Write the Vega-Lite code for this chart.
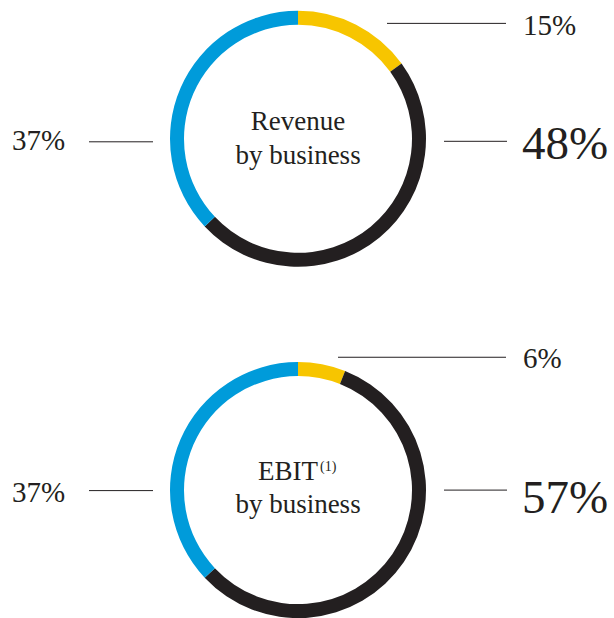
{
  "$schema": "https://vega.github.io/schema/vega-lite/v6.json",
  "width": 614,
  "height": 618,
  "padding": 0,
  "autosize": {"type": "fit", "contains": "padding"},
  "background": "#ffffff",
  "config": {
    "view": {"stroke": null},
    "font": "Liberation Serif",
    "text": {"font": "Liberation Serif", "color": "#231F20"}
  },
  "datasets": {
    "segments": [
      {"chart": "Revenue", "segment": "Segment A", "share": 15, "rank": 1, "cx": 298, "cy": 139.5},
      {"chart": "Revenue", "segment": "Segment B", "share": 48, "rank": 2, "cx": 298, "cy": 139.5},
      {"chart": "Revenue", "segment": "Segment C", "share": 37, "rank": 3, "cx": 298, "cy": 139.5},
      {"chart": "EBIT", "segment": "Segment A", "share": 6, "rank": 1, "cx": 298, "cy": 492.5},
      {"chart": "EBIT", "segment": "Segment B", "share": 57, "rank": 2, "cx": 298, "cy": 492.5},
      {"chart": "EBIT", "segment": "Segment C", "share": 37, "rank": 3, "cx": 298, "cy": 492.5}
    ],
    "leaders": [
      {"chart": "Revenue", "segment": "Segment A", "xa": 387, "xb": 506, "ly": 23.5},
      {"chart": "Revenue", "segment": "Segment B", "xa": 444, "xb": 507, "ly": 142},
      {"chart": "Revenue", "segment": "Segment C", "xa": 89, "xb": 153, "ly": 142.5},
      {"chart": "EBIT", "segment": "Segment A", "xa": 338, "xb": 506, "ly": 359},
      {"chart": "EBIT", "segment": "Segment B", "xa": 444, "xb": 507, "ly": 492.5},
      {"chart": "EBIT", "segment": "Segment C", "xa": 89, "xb": 153, "ly": 493}
    ],
    "labels": [
      {"chart": "Revenue", "label": "15%", "emphasis": "minor", "tx": 523, "ty": 35},
      {"chart": "Revenue", "label": "48%", "emphasis": "major", "tx": 522, "ty": 160},
      {"chart": "Revenue", "label": "37%", "emphasis": "minor", "tx": 12, "ty": 151},
      {"chart": "EBIT", "label": "6%", "emphasis": "minor", "tx": 523, "ty": 370},
      {"chart": "EBIT", "label": "57%", "emphasis": "major", "tx": 522, "ty": 515},
      {"chart": "EBIT", "label": "37%", "emphasis": "minor", "tx": 12, "ty": 504}
    ],
    "titles": [
      {"text": "Revenue", "tx": 298, "ty": 131},
      {"text": "by business", "tx": 298, "ty": 165},
      {"text": "EBIT", "tx": 288, "ty": 482},
      {"text": "by business", "tx": 298, "ty": 516}
    ],
    "notes": [
      {"text": "(1)", "tx": 320, "ty": 473}
    ]
  },
  "layer": [
    {
      "data": {"name": "segments"},
      "transform": [
        {"stack": "share", "groupby": ["chart"], "sort": [{"field": "rank", "order": "ascending"}], "as": ["t0", "t1"]}
      ],
      "mark": {"type": "arc", "radius": 128, "radius2": 114},
      "encoding": {
        "x": {"field": "cx", "type": "quantitative", "scale": {"domain": [0, 614], "nice": false, "zero": false}, "axis": null},
        "y": {"field": "cy", "type": "quantitative", "scale": {"domain": [0, 618], "nice": false, "zero": false, "reverse": true}, "axis": null},
        "theta": {"field": "t0", "type": "quantitative", "scale": {"domain": [0, 100], "range": [0, 6.283185307179586]}},
        "theta2": {"field": "t1"},
        "color": {
          "field": "segment", "type": "nominal",
          "scale": {"domain": ["Segment A", "Segment B", "Segment C"], "range": ["#F7C500", "#231F20", "#009BDA"]},
          "legend": null
        }
      }
    },
    {
      "data": {"name": "leaders"},
      "mark": {"type": "rule", "color": "#231F20", "strokeWidth": 1},
      "encoding": {
        "x": {"field": "xa", "type": "quantitative"},
        "x2": {"field": "xb"},
        "y": {"field": "ly", "type": "quantitative"}
      }
    },
    {
      "data": {"name": "labels"},
      "mark": {"type": "text", "align": "left", "baseline": "alphabetic"},
      "encoding": {
        "x": {"field": "tx", "type": "quantitative"},
        "y": {"field": "ty", "type": "quantitative"},
        "text": {"field": "label"},
        "size": {"field": "emphasis", "type": "nominal", "scale": {"domain": ["minor", "major"], "range": [29, 47]}, "legend": null}
      }
    },
    {
      "data": {"name": "titles"},
      "mark": {"type": "text", "align": "center", "baseline": "alphabetic", "fontSize": 27},
      "encoding": {
        "x": {"field": "tx", "type": "quantitative"},
        "y": {"field": "ty", "type": "quantitative"},
        "text": {"field": "text"}
      }
    },
    {
      "data": {"name": "notes"},
      "mark": {"type": "text", "align": "left", "baseline": "alphabetic", "fontSize": 14},
      "encoding": {
        "x": {"field": "tx", "type": "quantitative"},
        "y": {"field": "ty", "type": "quantitative"},
        "text": {"field": "text"}
      }
    }
  ]
}
